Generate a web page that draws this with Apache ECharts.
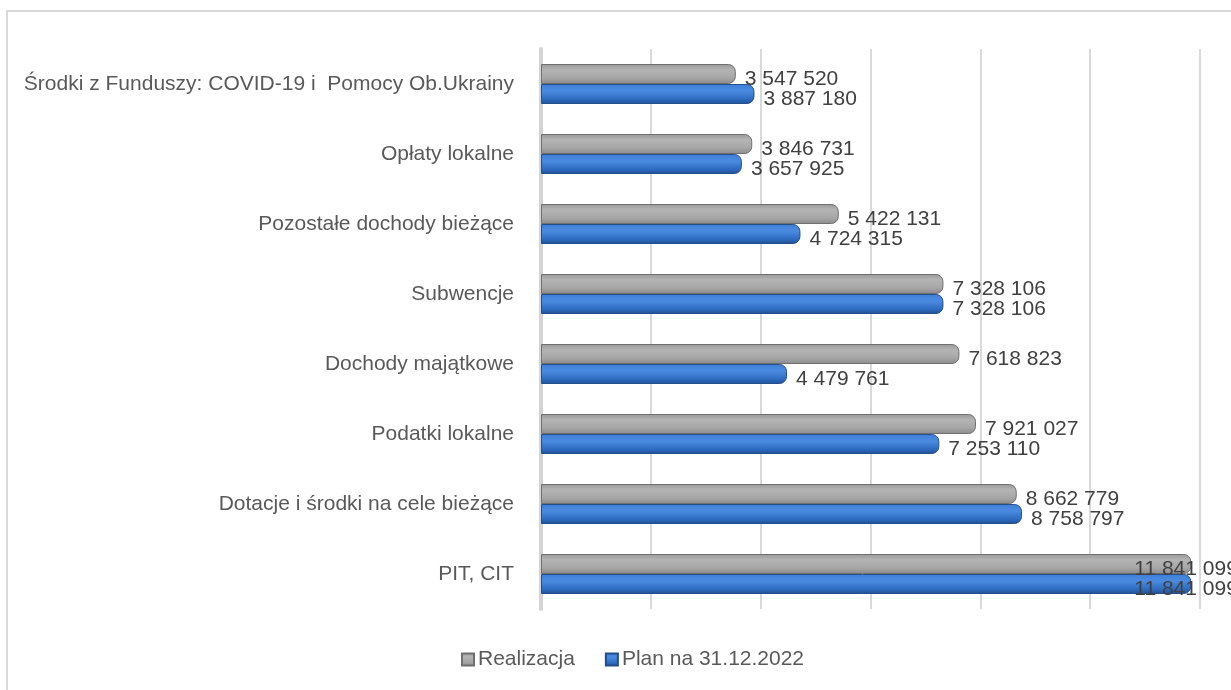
<!DOCTYPE html>
<html>
<head>
<meta charset="utf-8">
<script src="https://cdn.jsdelivr.net/npm/echarts@6/dist/echarts.min.js"></script>
<style>
  html, body { margin: 0; padding: 0; background: #fff; }
  #bar { width: 1231px; height: 690px; }
</style>
</head>
<body>
<div id="bar"></div>
<script>
// kategorie od dołu do góry
const categories = [
    'PIT, CIT',
    'Dotacje i środki na cele bieżące',
    'Podatki lokalne',
    'Dochody majątkowe',
    'Subwencje',
    'Pozostałe dochody bieżące',
    'Opłaty lokalne',
    'Środki z Funduszy: COVID-19 i  Pomocy Ob.Ukrainy'
];
const realizacja = [11841099, 8662779, 7921027, 7618823, 7328106, 5422131, 3846731, 3547520];
const plan = [11841099, 8758797, 7253110, 4479761, 7328106, 4724315, 3657925, 3887180];

const fmt = v => String(v).replace(/\B(?=(\d{3})+(?!\d))/g, ' ');

// etykieta dla najdłuższego słupka przesunięta w lewo, jak w Excelu
function withLabels(values) {
    return values.map(v => v > 11000000
        ? { value: v, label: { offset: [-66, 5] } }
        : v);
}

let myChart = echarts.init(document.getElementById('bar'));

const grayFill = new echarts.graphic.LinearGradient(0, 0, 0, 1, [
    { offset: 0, color: '#9a9a9a' },
    { offset: 0.3, color: '#b4b4b4' },
    { offset: 0.7, color: '#a6a6a6' },
    { offset: 1, color: '#8a8a8a' }
]);
const blueFill = new echarts.graphic.LinearGradient(0, 0, 0, 1, [
    { offset: 0, color: '#3f7fd6' },
    { offset: 0.35, color: '#4a8be0' },
    { offset: 0.75, color: '#2f6cc0' },
    { offset: 1, color: '#1f4f94' }
]);

const valueLabel = {
    show: true,
    position: 'right',
    distance: 9,
    offset: [0, 5],
    fontSize: 21,
    color: '#404040',
    formatter: p => fmt(p.value)
};

myChart.setOption({
    textStyle: { fontFamily: 'Liberation Sans' },
    graphic: [{
        type: 'rect',
        shape: { x: 7, y: 11, width: 1250, height: 700 },
        style: { fill: 'none', stroke: '#d9d9d9', lineWidth: 2 },
        silent: true
    }],
    legend: {
        data: ['Realizacja', 'Plan na 31.12.2022'],
        bottom: 15,
        left: 456,
        itemWidth: 12,
        itemHeight: 12,
        itemGap: 30,
        icon: 'rect',
        textStyle: { fontSize: 21, color: '#595959', padding: [0, 0, 0, -1] }
    },
    grid: {
        left: 541,
        right: 31,
        top: 49,
        bottom: 81
    },
    xAxis: {
        type: 'value',
        min: 0,
        max: 12000000,
        interval: 2000000,
        axisLabel: { show: false },
        axisLine: { show: false },
        axisTick: { show: false },
        splitLine: { lineStyle: { color: '#d9d9d9', width: 2 } }
    },
    yAxis: {
        type: 'category',
        data: categories,
        axisTick: { show: false },
        axisLine: { lineStyle: { color: '#d4d4d4', width: 4 } },
        axisLabel: { fontSize: 21, color: '#595959', margin: 27 }
    },
    series: [{
        name: 'Realizacja',
        type: 'bar',
        data: withLabels(realizacja),
        barWidth: 20,
        barGap: '0%',
        itemStyle: {
            color: grayFill,
            borderColor: '#6f6f6f',
            borderWidth: 1,
            borderRadius: [0, 7, 7, 0]
        },
        label: valueLabel
    }, {
        name: 'Plan na 31.12.2022',
        type: 'bar',
        data: withLabels(plan),
        barWidth: 20,
        barGap: '0%',
        itemStyle: {
            color: blueFill,
            borderColor: '#234f8c',
            borderWidth: 1,
            borderRadius: [0, 7, 7, 0]
        },
        label: valueLabel
    }]
});
</script>
</body>
</html>
